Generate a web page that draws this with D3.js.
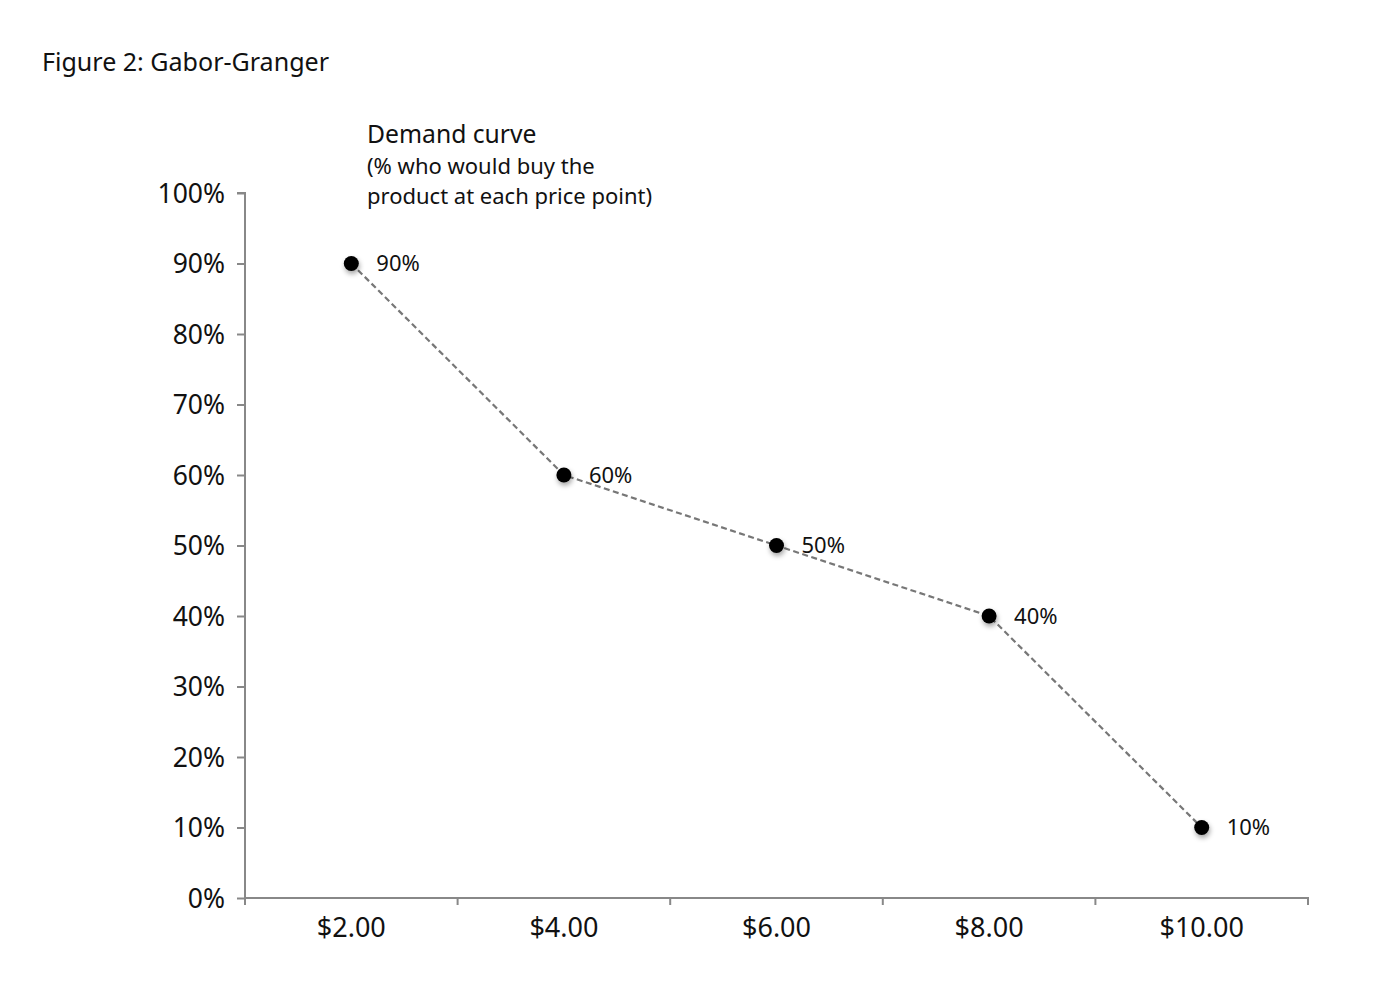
<!DOCTYPE html>
<html><head><meta charset="utf-8">
<script src="https://cdn.jsdelivr.net/npm/d3@7"></script>
<style>body{margin:0;background:#fff;} svg text{font-family:"Noto Sans",sans-serif;fill:#111;}</style>
</head><body>
<script>
const prices = ["$2.00","$4.00","$6.00","$8.00","$10.00"];
const demand = [0.9, 0.6, 0.5, 0.4, 0.1];
const pointLabels = ["90%","60%","50%","40%","10%"];
const yTicks = [0,0.1,0.2,0.3,0.4,0.5,0.6,0.7,0.8,0.9,1.0];
const titleText = "Figure 2: Gabor-Granger";
const noteLines = ["Demand curve","(% who would buy the","product at each price point)"];

(function(){
const W=1380,H=993;
const svg=d3.select("body").append("svg").attr("width",W).attr("height",H);
const defs=svg.append("defs");
const f=defs.append("filter").attr("id","sh").attr("x","-100%").attr("y","-100%").attr("width","300%").attr("height","300%");
f.append("feDropShadow").attr("dx",1).attr("dy",3).attr("stdDeviation",2.5).attr("flood-color","#000").attr("flood-opacity",0.35);

const mL=245,mR=1308,mT=193,mB=898;
const x=d3.scaleBand().domain(prices).range([mL,mR]);
const y=d3.scaleLinear().domain([0,1]).range([mB,mT]);

svg.append("text").attr("x",42).attr("y",71).attr("font-size",26).attr("textLength",287).attr("lengthAdjust","spacingAndGlyphs").text(titleText);

const yAxis=svg.append("g").attr("transform",`translate(${mL},0)`)
  .call(d3.axisLeft(y).tickValues(yTicks).tickFormat(d3.format(".0%")).tickSize(8).tickPadding(12));
const xAxis=svg.append("g").attr("transform",`translate(0,${mB})`)
  .call(d3.axisBottom(x).tickSize(0).tickPadding(16));
xAxis.selectAll(".bnd").data(prices.map(p=>x(p)).concat([mR])).enter().append("line")
  .attr("x1",d=>d).attr("x2",d=>d).attr("y1",0).attr("y2",7).attr("stroke","#888").attr("stroke-width",2);
[yAxis,xAxis].forEach(a=>{
  a.selectAll(".domain").attr("stroke","#888").attr("stroke-width",2);
  a.selectAll(".tick line").attr("stroke","#888").attr("stroke-width",2);
  a.selectAll(".tick text").attr("fill","#111").attr("font-family","Noto Sans");
});
yAxis.selectAll(".tick text").attr("font-size",26.5);
xAxis.selectAll(".tick text").attr("font-size",27);
yAxis.select(".domain").attr("d",`M-8,${mT}H0V${mB}`);
xAxis.select(".domain").attr("d",`M${mL},0H${mR}V7`);
yAxis.selectAll(".tick text").attr("dy","0.35em");
xAxis.selectAll(".tick text").attr("dy","0.85em");

const cx=d=>x(d.p)+x.bandwidth()/2;
const data=prices.map((p,i)=>({p,v:demand[i],l:pointLabels[i]}));
svg.append("path").datum(data).attr("fill","none").attr("stroke","#777").attr("stroke-width",2.2).attr("stroke-dasharray","6,3.5")
  .attr("d",d3.line().x(cx).y(d=>y(d.v)));
svg.selectAll(".pt").data(data).enter().append("circle").attr("cx",cx).attr("cy",d=>y(d.v)).attr("r",7.5).attr("fill","#000").attr("filter","url(#sh)");
svg.selectAll(".pl").data(data).enter().append("text").attr("x",d=>cx(d)+25).attr("y",d=>y(d.v)).attr("dy","0.35em").attr("font-size",22).text(d=>d.l);

svg.append("text").attr("x",367).attr("y",143).attr("font-size",24.7).text(noteLines[0]);
svg.append("text").attr("x",367).attr("y",174).attr("font-size",22).text(noteLines[1]);
svg.append("text").attr("x",367).attr("y",204).attr("font-size",22).text(noteLines[2]);
})();
</script>
</body></html>
